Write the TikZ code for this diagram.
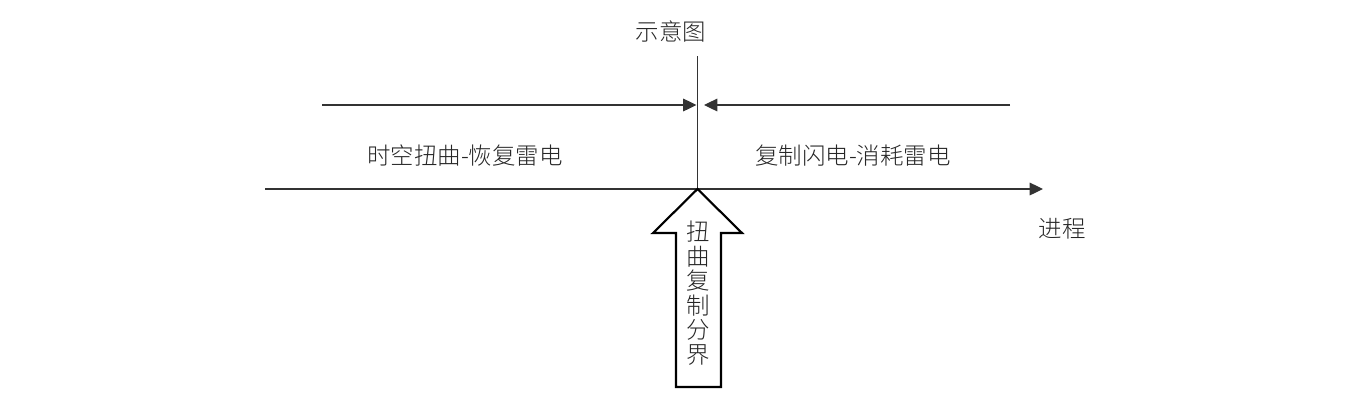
\documentclass[tikz,border=0pt]{standalone}
\usepackage{fontspec}
\newfontfamily\cjk[UprightFont={* Light}]{Noto Sans CJK SC}
\usetikzlibrary{arrows.meta}
\begin{document}
\begin{tikzpicture}[x=0.75pt,y=-0.75pt,
  lbl/.style={font=\cjk\fontsize{17.6pt}{20pt}\selectfont, inner sep=0pt, text=black!85},
  ln/.style={line width=0.9pt, draw=black!80},
  tip/.style={-{Triangle[length=10pt,width=9.5pt]}}]
\useasboundingbox (0,0) rectangle (1366,419);
% coordinates
\coordinate (vtop) at (697.5,56);
\coordinate (o) at (697.5,189);
\coordinate (axL) at (265,189);
\coordinate (axR) at (1043,189);
\coordinate (lA) at (322,105);
\coordinate (lT) at (696.5,105);
\coordinate (rA) at (1010,105);
\coordinate (rT) at (704,105);
% lines
\draw[ln] (vtop) -- (o);
\draw[ln,tip] (axL) -- (axR);
\draw[ln,tip] (lA) -- (lT);
\draw[ln,tip] (rA) -- (rT);
% block arrow
\draw[line width=1.6pt, fill=white, line join=miter] (o) -- (742,233) -- (721,233) -- (721,387) -- (676,387) -- (676,233) -- (653,233) -- cycle;
% labels
\node[lbl] (title) at (671,31) {示意图};
\node[lbl] (left) at (465,156) {时空扭曲-恢复雷电};
\node[lbl] (right) at (853,156) {复制闪电-消耗雷电};
\node[lbl] (proc) at (1062,229) {进程};
\node[lbl, align=center, font=\cjk\fontsize{17.6pt}{18.4pt}\selectfont] (vert) at (698,293) {扭\\曲\\复\\制\\分\\界};
\end{tikzpicture}
\end{document}
